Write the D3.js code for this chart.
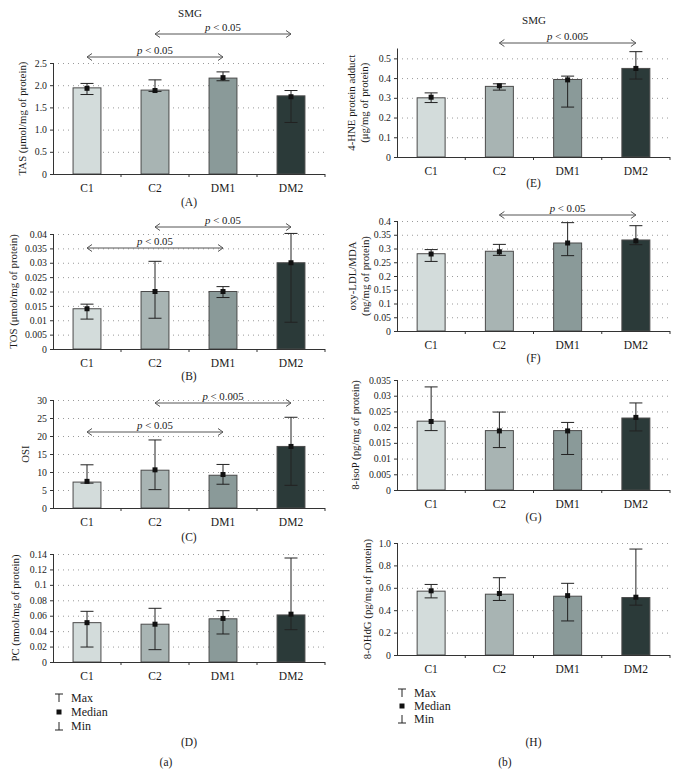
<!DOCTYPE html>
<html>
<head>
<meta charset="utf-8">
<script src="https://cdn.jsdelivr.net/npm/d3@7"></script>
<style>
body{margin:0;background:#fff;}
svg text{font-family:"Liberation Serif","Times New Roman",serif;fill:#1a1a1a;}
</style>
</head>
<body>
<div class="figure"></div>
<script>
/* ======== Data ============= */
var groups = ["C1", "C2", "DM1", "DM2"];
var groupColors = ["#d3dcdb", "#a8b4b3", "#8a9a99", "#2b3a39"];

// (A) TAS
var tasBar = [1.94, 1.89, 2.16, 1.76];
var tasMedian = [1.93, 1.88, 2.17, 1.74];
var tasMax = [2.04, 2.12, 2.30, 1.88];
var tasMin = [1.79, 1.86, 2.10, 1.16];
var tasTicks = ["0", "0.5", "1.0", "1.5", "2.0", "2.5"];

// (B) TOS
var tosBar = [0.014, 0.020, 0.020, 0.030];
var tosMedian = [0.014, 0.020, 0.020, 0.030];
var tosMax = [0.0156, 0.0305, 0.0217, 0.0402];
var tosMin = [0.0104, 0.0107, 0.0179, 0.0093];
var tosTicks = ["0", "0.005", "0.01", "0.015", "0.02", "0.025", "0.03", "0.035", "0.04"];

// (C) OSI
var osiBar = [7.2, 10.5, 9.1, 17.1];
var osiMedian = [7.4, 10.6, 9.3, 17.1];
var osiMax = [12.0, 18.9, 12.1, 25.2];
var osiMin = [6.9, 5.1, 6.6, 6.3];
var osiTicks = ["0", "5", "10", "15", "20", "25", "30"];

// (D) PC
var pcBar = [0.051, 0.049, 0.056, 0.061];
var pcMedian = [0.051, 0.049, 0.0565, 0.062];
var pcMax = [0.0657, 0.0696, 0.0665, 0.1348];
var pcMin = [0.0194, 0.016, 0.0363, 0.0419];
var pcTicks = ["0", "0.02", "0.04", "0.06", "0.08", "0.1", "0.12", "0.14"];

// (E) 4-HNE
var hneBar = [0.300, 0.358, 0.393, 0.449];
var hneMedian = [0.303, 0.361, 0.391, 0.449];
var hneMax = [0.325, 0.371, 0.410, 0.534];
var hneMin = [0.276, 0.339, 0.253, 0.395];
var hneTicks = ["0", "0.1", "0.2", "0.3", "0.4", "0.5"];

// (F) oxy-LDL/MDA
var ldlBar = [0.281, 0.290, 0.320, 0.331];
var ldlMedian = [0.280, 0.288, 0.320, 0.328];
var ldlMax = [0.296, 0.315, 0.394, 0.383];
var ldlMin = [0.253, 0.275, 0.274, 0.314];
var ldlTicks = ["0", "0.05", "0.1", "0.15", "0.2", "0.25", "0.3", "0.35", "0.4"];

// (G) 8-isoP
var isoBar = [0.0219, 0.0189, 0.0189, 0.0229];
var isoMedian = [0.0218, 0.0188, 0.0188, 0.0231];
var isoMax = [0.0328, 0.0248, 0.0215, 0.0277];
var isoMin = [0.0189, 0.0135, 0.0113, 0.0188];
var isoTicks = ["0", "0.005", "0.01", "0.015", "0.02", "0.025", "0.03", "0.035"];

// (H) 8-OHdG
var ohdgBar = [0.570, 0.543, 0.525, 0.513];
var ohdgMedian = [0.573, 0.549, 0.530, 0.516];
var ohdgMax = [0.630, 0.690, 0.640, 0.946];
var ohdgMin = [0.510, 0.487, 0.304, 0.445];
var ohdgTicks = ["0", "0.2", "0.4", "0.6", "0.8", "1.0"];
/* ======== Data ============= */

var width = 678, height = 783;
var tickFont = 9.8, catFont = 11.5, labelFont = 10.8;
var fontFamily = '"Liberation Serif","Times New Roman",serif';
var lineColor = "#333";
var gridColor = "#9a9a9a";
var arrowColor = "#555";

var svg = d3.select('.figure')
	.append('svg')
	.attr('width', width)
	.attr('height', height);

var leftCol = {x0: 53, x1: 325};
var rightCol = {x0: 397, x1: 670};

var panels = [
	{letter: "(A)", col: leftCol, top: 63, bottom: 174, ymax: 2.5,
	 bar: tasBar, med: tasMedian, max: tasMax, min: tasMin, ticks: tasTicks,
	 ylabel: ["TAS (\u03bcmol/mg of protein)"], ylabelX: [22], letterY: 206,
	 arrows: [{a: 1, b: 3, text: " < 0.05", dy: -29}, {a: 0, b: 2, text: " < 0.05", dy: -6}]},
	{letter: "(B)", col: leftCol, top: 234, bottom: 349, ymax: 0.04,
	 bar: tosBar, med: tosMedian, max: tosMax, min: tosMin, ticks: tosTicks,
	 ylabel: ["TOS (\u03bcmol/mg of protein)"], ylabelX: [13], letterY: 380,
	 arrows: [{a: 1, b: 3, text: " < 0.05", dy: -7}, {a: 0, b: 2, text: " < 0.05", dy: 14}]},
	{letter: "(C)", col: leftCol, top: 400, bottom: 508, ymax: 30,
	 bar: osiBar, med: osiMedian, max: osiMax, min: osiMin, ticks: osiTicks,
	 ylabel: ["OSI"], ylabelX: [25], letterY: 541,
	 arrows: [{a: 1, b: 3, text: " < 0.005", dy: 3}, {a: 0, b: 2, text: " < 0.05", dy: 32}]},
	{letter: "(D)", col: leftCol, top: 554, bottom: 662, ymax: 0.14,
	 bar: pcBar, med: pcMedian, max: pcMax, min: pcMin, ticks: pcTicks,
	 ylabel: ["PC (nmol/mg of protein)"], ylabelX: [15], letterY: 746,
	 arrows: [], legend: {x: 59, y: [698, 712, 726]}},
	{letter: "(E)", col: rightCol, top: 48.5, bottom: 157, ymax: 0.55,
	 bar: hneBar, med: hneMedian, max: hneMax, min: hneMin, ticks: hneTicks,
	 ylabel: ["4-HNE protein adduct", "(\u03bcg/mg of protein)"], ylabelX: [351, 364], letterY: 187,
	 arrows: [{a: 1, b: 3, text: " < 0.005", dy: -5.5}]},
	{letter: "(F)", col: rightCol, top: 221, bottom: 331, ymax: 0.4,
	 bar: ldlBar, med: ldlMedian, max: ldlMax, min: ldlMin, ticks: ldlTicks,
	 ylabel: ["oxy-LDL/MDA", "(ng/mg of protein)"], ylabelX: [352, 365], letterY: 362,
	 arrows: [{a: 1, b: 3, text: " < 0.05", dy: -6}]},
	{letter: "(G)", col: rightCol, top: 380, bottom: 490, ymax: 0.035,
	 bar: isoBar, med: isoMedian, max: isoMax, min: isoMin, ticks: isoTicks,
	 ylabel: ["8-isoP (pg/mg of protein)"], ylabelX: [355], letterY: 521,
	 arrows: []},
	{letter: "(H)", col: rightCol, top: 543, bottom: 655, ymax: 1.0,
	 bar: ohdgBar, med: ohdgMedian, max: ohdgMax, min: ohdgMin, ticks: ohdgTicks,
	 ylabel: ["8-OHdG (pg/mg of protein)"], ylabelX: [367], letterY: 746,
	 arrows: [], legend: {x: 402, y: [693, 706, 719]}}
];

panels.forEach(drawPanel);

// titles and subfigure labels
svg.append('text').attr('x', 190).attr('y', 17).attr('text-anchor', 'middle')
	.attr('font-size', 11).text('SMG');
svg.append('text').attr('x', 534).attr('y', 24).attr('text-anchor', 'middle')
	.attr('font-size', 11).text('SMG');
svg.append('text').attr('x', 166).attr('y', 766).attr('text-anchor', 'middle')
	.attr('font-size', catFont).text('(a)');
svg.append('text').attr('x', 505).attr('y', 766).attr('text-anchor', 'middle')
	.attr('font-size', catFont).text('(b)');

function drawPanel(p){
	var g = svg.append('g');
	var x0 = p.col.x0, x1 = p.col.x1;
	var x = d3.scaleBand().domain(groups).range([x0, x1])
		.paddingInner(0.59).paddingOuter(0.295);
	var y = d3.scaleLinear().domain([0, p.ymax]).range([p.bottom, p.top]);
	var step = x.step();

	// dotted grid
	var grid = g.append('g')
		.attr('transform', 'translate(' + x0 + ',0)')
		.call(d3.axisLeft(y).tickValues(p.ticks.slice(1).map(Number))
			.tickSize(-(x1 - x0)).tickFormat(''));
	grid.select('.domain').remove();
	grid.selectAll('line')
		.attr('stroke', gridColor)
		.attr('stroke-width', 1)
		.attr('stroke-dasharray', '1,4');

	// bars
	g.selectAll('rect.bar').data(groups).enter().append('rect')
		.attr('x', function(d){ return x(d); })
		.attr('y', function(d, i){ return y(p.bar[i]); })
		.attr('width', x.bandwidth())
		.attr('height', function(d, i){ return y(0) - y(p.bar[i]); })
		.attr('fill', function(d, i){ return groupColors[i]; })
		.attr('stroke', '#4a4a4a')
		.attr('stroke-width', 1);

	// error bars: max / min whiskers and median square
	var capW = 6.5;
	groups.forEach(function(d, i){
		var cx = x(d) + x.bandwidth() / 2;
		g.append('line').attr('x1', cx).attr('x2', cx)
			.attr('y1', y(p.max[i])).attr('y2', y(p.min[i]))
			.attr('stroke', '#222').attr('stroke-width', 1);
		[p.max[i], p.min[i]].forEach(function(v){
			g.append('line').attr('x1', cx - capW).attr('x2', cx + capW)
				.attr('y1', y(v)).attr('y2', y(v))
				.attr('stroke', '#222').attr('stroke-width', 1);
		});
		g.append('rect').attr('x', cx - 2.5).attr('y', y(p.med[i]) - 2.5)
			.attr('width', 5).attr('height', 5).attr('fill', '#111');
	});

	// y axis
	var yAxis = g.append('g')
		.attr('transform', 'translate(' + x0 + ',0)')
		.call(d3.axisLeft(y).tickValues(p.ticks.map(Number)).tickSize(3)
			.tickFormat(function(d, i){ return p.ticks[i]; }));
	yAxis.select('.domain').attr('stroke', lineColor).attr('d', 'M0.5,' + p.top + 'V' + (p.bottom + 0.5));
	yAxis.selectAll('line').attr('stroke', lineColor);
	yAxis.selectAll('text').attr('font-size', tickFont)
		.attr('font-family', fontFamily)
		.attr('fill', '#1a1a1a');

	// x axis
	var xAxis = g.append('g')
		.attr('transform', 'translate(0,' + p.bottom + ')')
		.call(d3.axisBottom(x).tickSize(0).tickPadding(10));
	xAxis.select('.domain').attr('stroke', lineColor).attr('d', 'M' + x0 + ',0.5H' + x1);
	xAxis.selectAll('text').attr('font-size', catFont)
		.attr('font-family', fontFamily)
		.attr('fill', '#1a1a1a');
	groups.forEach(function(d){
		var tx = x(d) + x.bandwidth() + (step - x.bandwidth()) / 2;
		g.append('line').attr('x1', tx).attr('x2', tx)
			.attr('y1', p.bottom).attr('y2', p.bottom + 3)
			.attr('stroke', lineColor);
	});

	// y label
	var cy = (p.top + p.bottom) / 2;
	p.ylabel.forEach(function(t, k){
		g.append('text')
			.attr('transform', 'translate(' + p.ylabelX[k] + ',' + cy + ') rotate(-90)')
			.attr('text-anchor', 'middle')
			.attr('dy', '0.35em')
			.attr('font-size', labelFont)
			.text(t);
	});

	// panel letter
	g.append('text').attr('x', (x0 + x1) / 2).attr('y', p.letterY)
		.attr('text-anchor', 'middle').attr('font-size', catFont).text(p.letter);

	// significance arrows
	p.arrows.forEach(function(a){
		var ax0 = x(groups[a.a]) + x.bandwidth() / 2;
		var ax1 = x(groups[a.b]) + x.bandwidth() / 2;
		var ay = p.top + a.dy;
		g.append('line').attr('x1', ax0).attr('x2', ax1).attr('y1', ay).attr('y2', ay)
			.attr('stroke', arrowColor).attr('stroke-width', 1);
		g.append('path')
			.attr('d', 'M' + (ax0 + 5) + ',' + (ay - 3.5) + 'L' + ax0 + ',' + ay + 'L' + (ax0 + 5) + ',' + (ay + 3.5)
				+ 'M' + (ax1 - 5) + ',' + (ay - 3.5) + 'L' + ax1 + ',' + ay + 'L' + (ax1 - 5) + ',' + (ay + 3.5))
			.attr('fill', 'none').attr('stroke', arrowColor).attr('stroke-width', 1);
		var t = g.append('text').attr('x', (ax0 + ax1) / 2).attr('y', ay - 3)
			.attr('text-anchor', 'middle').attr('font-size', 10.8);
		t.append('tspan').attr('font-style', 'italic').text('p');
		t.append('tspan').text(a.text);
	});

	// legend
	if(p.legend){
		var lx = p.legend.x, ly = p.legend.y;
		var names = ["Max", "Median", "Min"];
		var sym = g.append('g').attr('stroke', '#222').attr('stroke-width', 1).attr('fill', 'none');
		sym.append('path').attr('d', 'M' + (lx - 4) + ',' + (ly[0] - 4) + 'H' + (lx + 4) + 'M' + lx + ',' + (ly[0] - 4) + 'V' + (ly[0] + 4));
		g.append('rect').attr('x', lx - 2.5).attr('y', ly[1] - 2.5).attr('width', 5).attr('height', 5).attr('fill', '#111');
		sym.append('path').attr('d', 'M' + lx + ',' + (ly[2] - 4) + 'V' + (ly[2] + 4) + 'M' + (lx - 4) + ',' + (ly[2] + 4) + 'H' + (lx + 4));
		names.forEach(function(n, k){
			g.append('text').attr('x', lx + 12).attr('y', ly[k]).attr('dy', '0.35em')
				.attr('font-size', 12).text(n);
		});
	}
}
</script>
</body>
</html>
